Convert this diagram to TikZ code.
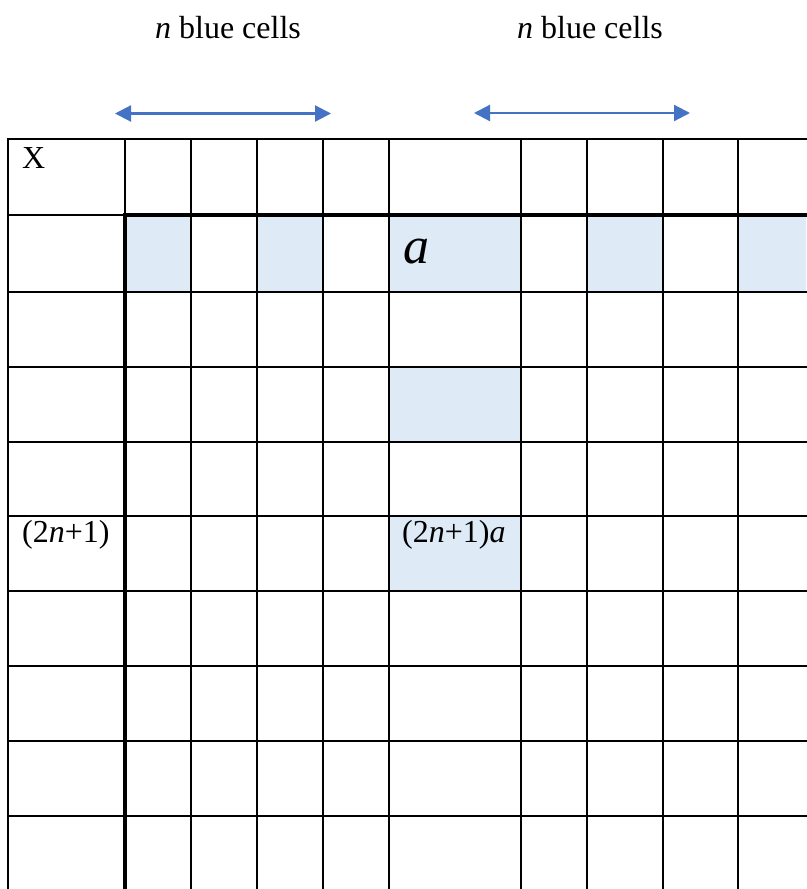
\documentclass[tikz,border=0pt]{standalone}
\usepackage{fontspec}
\setmainfont{Liberation Serif}
\usepackage{xcolor}
\usepackage{tikz}
\usetikzlibrary{arrows.meta}
\definecolor{cellblue}{HTML}{DEEAF6}
\definecolor{arrowblue}{HTML}{4472C4}

\begin{document}
\begin{tikzpicture}[x=1pt, y=-1pt,
    thin line/.style={line width=1.6pt, line cap=rect},
    thick line/.style={line width=3.4pt, line cap=rect},
    span arrow/.style={arrowblue, line width=2.2pt,
        {Triangle[length=16pt,width=16pt]}-{Triangle[length=16pt,width=16pt]}},
    lbl/.style={font=\fontsize{32}{38}\selectfont, inner sep=0pt}]
    \useasboundingbox (0,0) rectangle (806,889);
    % blue cells
    \fill[cellblue] (125,215) rectangle (191,292);
    \fill[cellblue] (257,215) rectangle (323,292);
    \fill[cellblue] (389,215) rectangle (521,292);
    \fill[cellblue] (587,215) rectangle (663,292);
    \fill[cellblue] (738,215) rectangle (806,292);
    \fill[cellblue] (389,367) rectangle (521,442);
    \fill[cellblue] (389,516) rectangle (521,591);
    % grid
    \foreach \x in {8,191,257,323,389,521,587,663,738}
        \draw[thin line] (\x,139) -- (\x,889);
    \draw[thin line] (125,139) -- (125,215);
    \foreach \y in {139,292,367,442,516,591,666,741,816}
        \draw[thin line] (8,\y) -- (806,\y);
    \draw[thin line] (8,215) -- (125,215);
    \draw[thick line] (125,215) -- (125,889);
    \draw[thick line] (125,215) -- (806,215);
    % arrows over the columns
    \coordinate (leftstart) at (115,113.5);
    \coordinate (leftend) at (331,113.5);
    \coordinate (rightstart) at (474,113);
    \coordinate (rightend) at (690,113);
    \draw[span arrow] (leftstart) -- (leftend);
    \draw[span arrow] (rightstart) -- (rightend);
    \node[lbl, anchor=base] (leftspan) at (228,38) {\textit{n} blue cells};
    \node[lbl, anchor=base] (rightspan) at (590,38) {\textit{n} blue cells};
    % cell texts
    \node[lbl, anchor=base west] (corner) at (22,168) {X};
    \node[lbl, anchor=base west] (rowlabel) at (22,542) {(2\textit{n}+1)};
    \node[lbl, anchor=base west] (product) at (402,542) {(2\textit{n}+1)\textit{a}};
    \node[anchor=base west, inner sep=0pt, font=\fontsize{52}{60}\selectfont\itshape] (cella) at (403,263) {a};
\end{tikzpicture}
\end{document}
